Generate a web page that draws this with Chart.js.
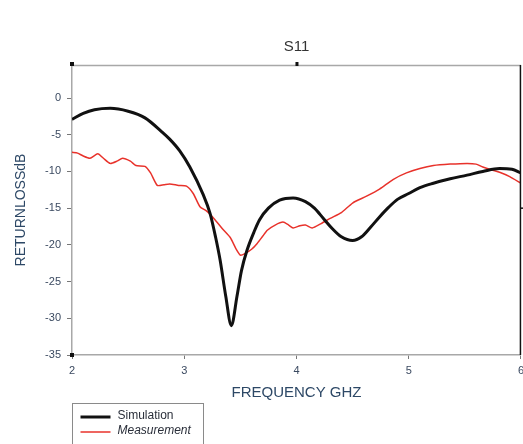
<!DOCTYPE html>
<html>
<head>
<meta charset="utf-8">
<script src="https://cdn.jsdelivr.net/npm/chart.js@4/dist/chart.umd.min.js"></script>
<style>
  html, body { margin: 0; padding: 0; background: #fff; overflow: hidden; }
  #wrap { width: 523px; height: 444px; overflow: hidden; }
</style>
</head>
<body>
<div id="wrap"><canvas id="c" width="529" height="444"></canvas></div>
<script>
// Frequency sweep (GHz) and return loss (dB) for the two S11 traces
const simFreq = [2.00, 2.10, 2.20, 2.34, 2.50, 2.65, 2.80, 2.87, 2.96, 3.05, 3.17, 3.23, 3.28, 3.32, 3.37, 3.42, 3.47, 3.51, 3.56, 3.62, 3.67, 3.75, 3.85, 3.97, 4.08, 4.16, 4.24, 4.32, 4.40, 4.50, 4.58, 4.66, 4.74, 4.82, 4.90, 5.00, 5.10, 5.22, 5.37, 5.52, 5.66, 5.81, 5.92, 6.00];
const simDb   = [-2.9, -2.1, -1.6, -1.4, -1.8, -2.7, -4.6, -5.6, -7.2, -9.4, -13.2, -15.7, -19.0, -22.1, -27.0, -31.0, -27.0, -23.5, -20.7, -18.3, -16.6, -15.0, -13.9, -13.6, -14.1, -15.0, -16.4, -17.8, -18.9, -19.4, -18.9, -17.6, -16.2, -14.9, -13.8, -13.0, -12.2, -11.6, -11.0, -10.5, -10.0, -9.6, -9.7, -10.2];

const measFreq = [2.00, 2.05, 2.10, 2.16, 2.23, 2.28, 2.34, 2.40, 2.45, 2.52, 2.57, 2.65, 2.70, 2.76, 2.82, 2.87, 2.95, 3.02, 3.08, 3.14, 3.20, 3.27, 3.34, 3.41, 3.46, 3.50, 3.54, 3.60, 3.65, 3.70, 3.74, 3.81, 3.88, 3.93, 3.97, 4.03, 4.08, 4.14, 4.22, 4.30, 4.40, 4.50, 4.62, 4.74, 4.86, 4.98, 5.10, 5.22, 5.37, 5.52, 5.60, 5.66, 5.74, 5.81, 5.90, 6.00];
const measDb   = [-7.4, -7.5, -7.9, -8.2, -7.6, -8.2, -8.9, -8.6, -8.2, -8.6, -9.2, -9.3, -10.2, -11.9, -11.8, -11.7, -11.9, -12.0, -13.0, -14.8, -15.4, -16.5, -17.8, -19.0, -20.5, -21.4, -21.2, -20.6, -19.8, -18.8, -18.0, -17.3, -16.9, -17.3, -17.7, -17.4, -17.3, -17.7, -17.1, -16.4, -15.6, -14.3, -13.4, -12.4, -11.1, -10.2, -9.6, -9.2, -9.0, -8.9, -9.0, -9.4, -9.8, -10.1, -10.7, -11.6];

const xTicks = [2, 3, 4, 5, 6];
const yTicks = [-35, -30, -25, -20, -15, -10, -5, 0];
const seriesNames = ['Simulation', 'Measurement'];

const toPoints = (xs, ys) => xs.map((x, i) => ({ x: x, y: ys[i] }));

const FONT = '"Liberation Sans", Arial, sans-serif';
const labelColor = '#3a4960';
const titleColor = '#2d4866';

// Frame lines on the top/right of the plot and a boxed legend under the x axis
const framePlugin = {
  id: 'frame',
  afterDraw(chart) {
    const { ctx, chartArea: a } = chart;
    ctx.save();
    // top border
    ctx.strokeStyle = '#a8a8a8';
    ctx.lineWidth = 1.5;
    ctx.beginPath();
    ctx.moveTo(a.left, a.top + 0.5);
    ctx.lineTo(a.right, a.top + 0.5);
    ctx.stroke();
    // small marks on top border
    ctx.fillStyle = '#111';
    ctx.fillRect(a.left - 2, a.top - 3, 4, 4);
    ctx.fillRect(chart.scales.x.getPixelForValue(4) - 1, a.top - 3, 3, 4);
    // right border
    ctx.strokeStyle = '#111';
    ctx.lineWidth = 1.5;
    ctx.beginPath();
    ctx.moveTo(a.right - 0.5, a.top);
    ctx.lineTo(a.right - 0.5, a.bottom);
    ctx.stroke();
    ctx.beginPath();
    const yR = chart.scales.y.getPixelForValue(-15);
    ctx.moveTo(a.right, yR);
    ctx.lineTo(a.right + 4, yR);
    ctx.stroke();
    // bottom-left corner mark
    ctx.fillRect(a.left - 2, a.bottom - 2, 4, 4);

    // legend box
    const bx = a.left + 0.5, by = 403.5, bw = 131, bh = 50;
    ctx.strokeStyle = '#8a8a8a';
    ctx.lineWidth = 1;
    ctx.strokeRect(bx, by, bw, bh);
    const rows = [
      { y: 417, color: '#111111', width: 3, style: 'normal' },
      { y: 432, color: '#e8322b', width: 1.5, style: 'italic' }
    ];
    chart.data.datasets.forEach((ds, i) => {
      const r = rows[i];
      ctx.strokeStyle = r.color;
      ctx.lineWidth = r.width;
      ctx.beginPath();
      ctx.moveTo(bx + 8, r.y);
      ctx.lineTo(bx + 38, r.y);
      ctx.stroke();
      ctx.fillStyle = '#2a2f3a';
      ctx.font = r.style + ' 12px ' + FONT;
      ctx.textBaseline = 'middle';
      ctx.textAlign = 'left';
      ctx.fillText(ds.label, bx + 45, r.y - 1);
    });
    ctx.restore();
  }
};

new Chart(document.getElementById('c'), {
  type: 'line',
  data: {
    datasets: [
      {
        label: seriesNames[0],
        data: toPoints(simFreq, simDb),
        borderColor: '#111111',
        borderWidth: 3,
        pointRadius: 0,
        tension: 0.4,
        cubicInterpolationMode: 'monotone',
        fill: false
      },
      {
        label: seriesNames[1],
        data: toPoints(measFreq, measDb),
        borderColor: '#e8322b',
        borderWidth: 1.5,
        pointRadius: 0,
        tension: 0.2,
        fill: false
      }
    ]
  },
  options: {
    responsive: false,
    animation: false,
    devicePixelRatio: 1,
    layout: { padding: { left: 0, right: 2, top: 0, bottom: 40 } },
    plugins: {
      legend: { display: false },
      tooltip: { enabled: false },
      title: {
        display: true,
        fullSize: false,
        text: 'S11',
        color: '#333333',
        font: { family: FONT, size: 15, weight: 'normal' },
        padding: { top: 38, bottom: 9 }
      }
    },
    scales: {
      x: {
        type: 'linear',
        min: 2,
        max: 6,
        afterBuildTicks: (s) => { s.ticks = xTicks.map(v => ({ value: v })); },
        afterFit: (s) => { s.height = 49; },
        grid: { drawOnChartArea: false, drawTicks: true, tickLength: 4, color: '#777' },
        border: { display: true, color: '#a8a8a8', width: 1.5 },
        ticks: { color: labelColor, font: { family: FONT, size: 11 }, padding: 5, maxRotation: 0 },
        title: {
          display: true,
          text: 'FREQUENCY GHZ',
          color: titleColor,
          font: { family: FONT, size: 15 },
          padding: { top: 0, bottom: 2 }
        }
      },
      y: {
        type: 'linear',
        min: -35,
        max: 4.5,
        afterBuildTicks: (s) => { s.ticks = yTicks.map(v => ({ value: v })); },
        afterFit: (s) => { s.width = 72; },
        grid: { drawOnChartArea: false, drawTicks: true, tickLength: 5, color: '#777' },
        border: { display: true, color: '#a8a8a8', width: 1.5 },
        ticks: { color: labelColor, font: { family: FONT, size: 11 }, padding: 6 },
        title: {
          display: true,
          text: 'RETURNLOSSdB',
          color: titleColor,
          font: { family: FONT, size: 14 },
          padding: { top: 13, bottom: 0 }
        }
      }
    }
  },
  plugins: [framePlugin]
});
</script>
</body>
</html>
